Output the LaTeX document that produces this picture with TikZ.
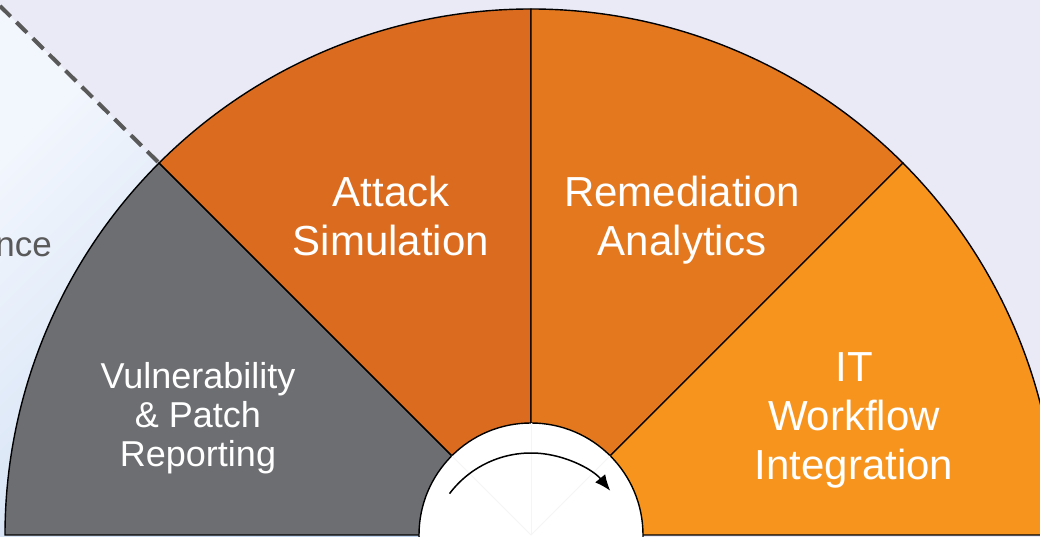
\documentclass[tikz,border=0pt]{standalone}
\usepackage{fontspec}
\setmainfont{Liberation Sans}
\usetikzlibrary{arrows.meta}
\definecolor{pagebg}{HTML}{EAEAF6}
\definecolor{bluelt}{HTML}{F2F6FD}
\definecolor{bluedk}{HTML}{BFD4EF}
\definecolor{vulngray}{HTML}{6D6E71}
\definecolor{attackor}{HTML}{DB6C1F}
\definecolor{remedor}{HTML}{E3781F}
\definecolor{itor}{HTML}{F7941E}
\definecolor{dashgray}{HTML}{595959}

\begin{document}
\begin{tikzpicture}[x=1pt, y=1pt,
  sector/.style = {draw=black, line width=1.4pt},
  bigtext/.style = {text=white, align=center, font=\fontsize{42}{49}\selectfont},
  smalltext/.style = {text=white, align=center, font=\fontsize{36}{39}\selectfont}]
\useasboundingbox (0,0) rectangle (1040,537);
\clip (0,0) rectangle (1040,537);
\fill[pagebg] (0,0) rectangle (1040,537);
\coordinate (o) at (531,2);
\coordinate (d1) at (0,531);
\coordinate (d2) at (159,374);
\coordinate (ac) at (531,-18);

% left band
\shade[top color=bluelt, bottom color=bluedk, shading angle=45]
  (0,0) -- (d1) -- (d2) -- (o) -- (531,0) -- cycle;
\draw[dashgray, line width=4pt, dash pattern=on 15pt off 8pt] (d1) -- (d2);
\node[anchor=base east, inner xsep=0pt, text=dashgray, font=\fontsize{35}{40}\selectfont] (nce) at (52,280) {nce};

% the fan
\filldraw[sector, fill=vulngray] (o) -- ++(180:526) arc[start angle=180, end angle=135, radius=526] -- cycle;
\filldraw[sector, fill=attackor] (o) -- ++(135:526) arc[start angle=135, end angle=90, radius=526] -- cycle;
\filldraw[sector, fill=remedor] (o) -- ++(90:526) arc[start angle=90, end angle=45, radius=526] -- cycle;
\filldraw[sector, fill=itor] (o) -- ++(45:526) arc[start angle=45, end angle=0, radius=526] -- cycle;
\filldraw[sector, fill=white] (o) circle[radius=112];
\foreach \a in {135,90,45}
  \draw[black!4, line width=0.8pt] (o) -- ++(\a:112);
\draw[line width=1.5pt, -{Latex[length=16pt, width=13pt]}] (ac) ++(143:102) arc[start angle=143, end angle=39, radius=102];

% labels
\node[smalltext] (vuln) at (198,119) {Vulnerability\\ \& Patch\\ Reporting};
\node[bigtext] (attack) at (391,321) {Attack\\ Simulation};
\node[bigtext] (remed) at (682,317) {Remediation\\ Analytics};
\node[bigtext] (itwf) at (854,117) {IT\\ Workflow\\ Integration};
\end{tikzpicture}
\end{document}
